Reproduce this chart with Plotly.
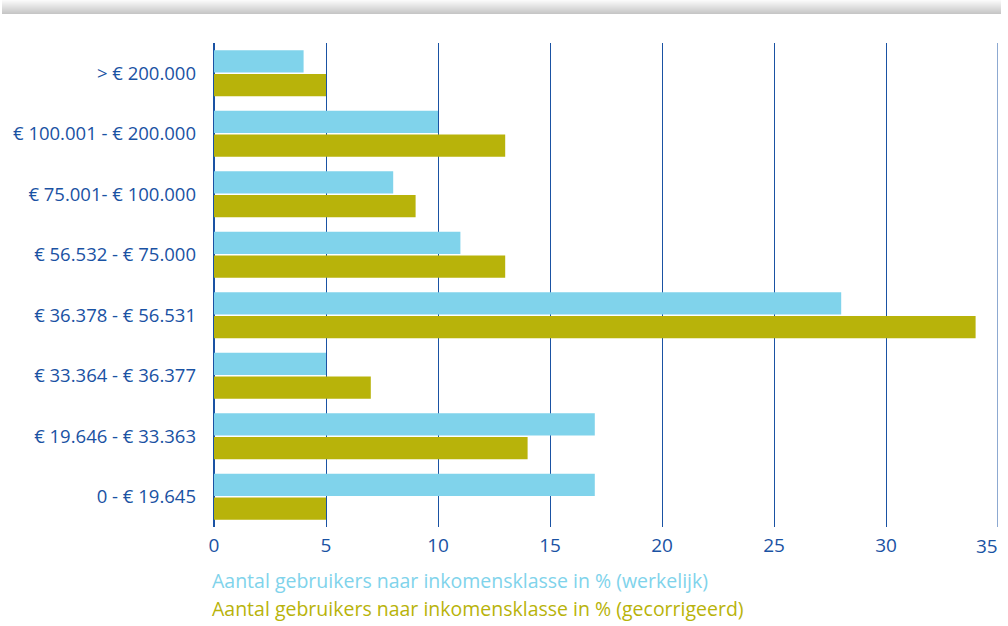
import plotly.graph_objects as go

# income classes, top to bottom as in the chart
categories = [
    "> € 200.000",
    "€ 100.001 - € 200.000",
    "€ 75.001- € 100.000",
    "€ 56.532 - € 75.000",
    "€ 36.378 - € 56.531",
    "€ 33.364 - € 36.377",
    "€ 19.646 - € 33.363",
    "0 - € 19.645",
]
werkelijk = [4, 10, 8, 11, 28, 5, 17, 17]
gecorrigeerd = [5, 13, 9, 13, 34, 7, 14, 5]
x_ticks = [0, 5, 10, 15, 20, 25, 30, 35]

label_werkelijk = "Aantal gebruikers naar inkomensklasse in % (werkelijk)"
label_gecorrigeerd = "Aantal gebruikers naar inkomensklasse in % (gecorrigeerd)"

blue = "#1a52a3"
light_blue = "#80d3eb"
olive = "#b8b30a"
font_family = "'Open Sans', sans-serif"

W, H = 1008, 626
ml, mr, mt, mb = 214, 10, 43, 99

fig = go.Figure()
fig.add_trace(go.Bar(y=categories, x=werkelijk, orientation="h",
                     marker=dict(color=light_blue, line=dict(width=0)),
                     name=label_werkelijk))
fig.add_trace(go.Bar(y=categories, x=gecorrigeerd, orientation="h",
                     marker=dict(color=olive, line=dict(width=0)),
                     name=label_gecorrigeerd))

# grey gradient band at the top of the page
pw = W - ml - mr
ph = H - mt - mb
band_h = 14
for i in range(band_h):
    t = i / (band_h - 1)
    c = int(250 - t * 52)
    fig.add_shape(type="rect", xref="paper", yref="paper",
                  x0=(2 - ml) / pw, x1=(1001 - ml) / pw,
                  y0=1 + (mt - i - 1) / ph, y1=1 + (mt - i) / ph,
                  fillcolor=f"rgb({c},{c},{c})", line=dict(width=0), layer="below")

# last gridline + label sit on the right edge of the plot area
last = x_ticks[-1]
fig.add_shape(type="line", xref="x", yref="paper", x0=last, x1=last, y0=0, y1=1,
              line=dict(color=blue, width=1))
fig.add_annotation(text=str(last), xref="x", yref="paper", x=last, y=0,
                   xanchor="right", yanchor="middle", xshift=2, yshift=-19,
                   showarrow=False, font=dict(color=blue, size=19, family=font_family))

# legend lines as coloured text under the axis
fig.add_annotation(text=label_werkelijk, xref="paper", yref="paper", x=0, y=0,
                   xanchor="left", yanchor="middle", xshift=-4, yshift=-53,
                   showarrow=False, font=dict(color=light_blue, size=19.5, family=font_family))
fig.add_annotation(text=label_gecorrigeerd, xref="paper", yref="paper", x=0, y=0,
                   xanchor="left", yanchor="middle", xshift=-4, yshift=-81,
                   showarrow=False, font=dict(color=olive, size=19.5, family=font_family))

fig.update_layout(
    width=W, height=H,
    margin=dict(l=ml, r=mr, t=mt, b=mb),
    paper_bgcolor="white", plot_bgcolor="white",
    barmode="group", bargap=0.22, bargroupgap=0.06,
    showlegend=False,
    font=dict(family=font_family, color=blue, size=18),
    xaxis=dict(range=[0, 35], tickvals=x_ticks[:-1], showgrid=True, gridcolor=blue, gridwidth=1,
               zeroline=True, zerolinecolor=blue, zerolinewidth=2, showline=False,
               ticks="", ticklabelstandoff=5, automargin=False,
               tickfont=dict(size=19, color=blue)),
    yaxis=dict(autorange="reversed", showgrid=False, zeroline=False, showline=False,
               ticks="", ticklabelstandoff=17, automargin=False,
               tickfont=dict(size=18.5, color=blue)),
)

fig.write_html("out.html", config={"displayModeBar": False},
               post_script="document.body.style.margin='0';")
